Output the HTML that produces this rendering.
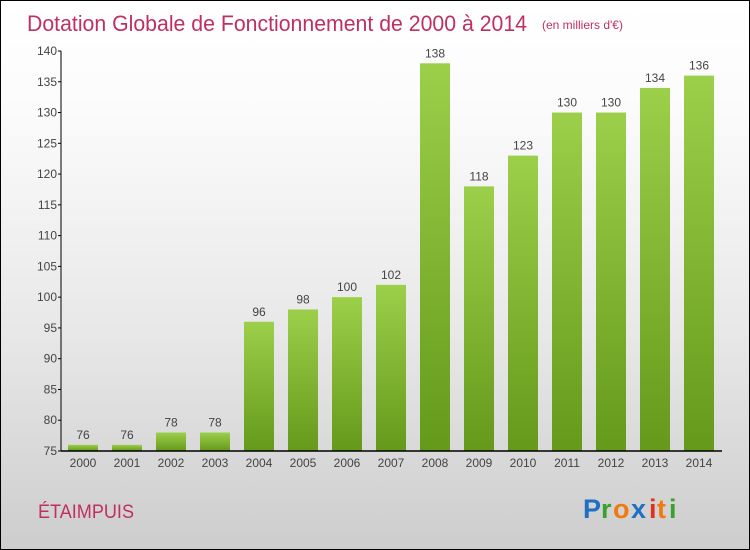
<!DOCTYPE html>
<html><head><meta charset="utf-8"><style>
body{margin:0}
#c{width:750px;height:550px;position:relative;box-sizing:border-box;border:1px solid #000;background:linear-gradient(#fff,#fbfbfb 20%,#e8e8e8 60%,#cdcdcd);font-family:"Liberation Sans",sans-serif;overflow:hidden}
</style></head><body>
<div id="c">
<svg width="750" height="550" style="position:absolute;left:0;top:0" id="s">
<defs><linearGradient id="g" x1="0" y1="0" x2="0" y2="1"><stop offset="0" stop-color="#9ccf4a"/><stop offset="1" stop-color="#65991a"/></linearGradient></defs>
<text x="26" y="30" font-size="22" fill="#c0305f" textLength="500" lengthAdjust="spacingAndGlyphs">Dotation Globale de Fonctionnement de 2000 à 2014</text>
<text x="541" y="28" font-size="12" fill="#c0305f">(en milliers d'€)</text>
<text x="37" y="517" font-size="19" fill="#c0305f" textLength="96" lengthAdjust="spacingAndGlyphs">ÉTAIMPUIS</text>
<g font-size="27" font-weight="bold">
<text x="582" y="517" fill="#1f6fc4">P</text><text x="600" y="517" fill="#3aa030">r</text><text x="612" y="517" fill="#f07a10">o</text><text x="630" y="517" fill="#1f6fc4">x</text><text x="648" y="517" fill="#e03020">i</text><text x="656" y="517" fill="#f07a10">t</text><text x="668" y="517" fill="#3aa030">i</text></g>
<g id="bars"></g><g id="axes"></g>
</svg></div>
<script>
const years=["2000","2001","2002","2003","2004","2005","2006","2007","2008","2009","2010","2011","2012","2013","2014"];
const values=[76,76,78,78,96,98,100,102,138,118,123,130,130,134,136];
const yTicks=[75,80,85,90,95,100,105,110,115,120,125,130,135,140];
const NS="http://www.w3.org/2000/svg";
const y=v=>450-(v-75)*400/65;
const x=i=>82+i*44;
function mk(t,a,p){const e=document.createElementNS(NS,t);for(const k in a)e.setAttribute(k,a[k]);p.appendChild(e);return e;}
const B=document.getElementById('bars'),A=document.getElementById('axes');
values.forEach((v,i)=>{
 const r=mk('rect',{x:x(i)-15,y:y(v),width:30,height:450-y(v),fill:'url(#g)'},B);
 
 
 const t=mk('text',{x:x(i),y:y(v)-6,'font-size':12,'text-anchor':'middle',fill:'#444'},B);
 t.textContent=v;
 
 
 const l=mk('text',{x:x(i),y:466,'font-size':12,'text-anchor':'middle',fill:'#444'},A);
 l.textContent=years[i];
 
 
});
yTicks.forEach(v=>{
 mk('line',{x1:57,x2:60,y1:y(v),y2:y(v),stroke:'#000'},A);
 const t=mk('text',{x:56,y:y(v)+4,'font-size':12,'text-anchor':'end',fill:'#444'},A);
 t.textContent=v;
 
 
});
const ya=mk('line',{x1:60,x2:60,y1:y(140),y2:450,stroke:'#000'},A);


const xa=mk('line',{x1:60,x2:721,y1:450,y2:450,stroke:'#000','stroke-width':1.5},A);


</script>
</body></html>
